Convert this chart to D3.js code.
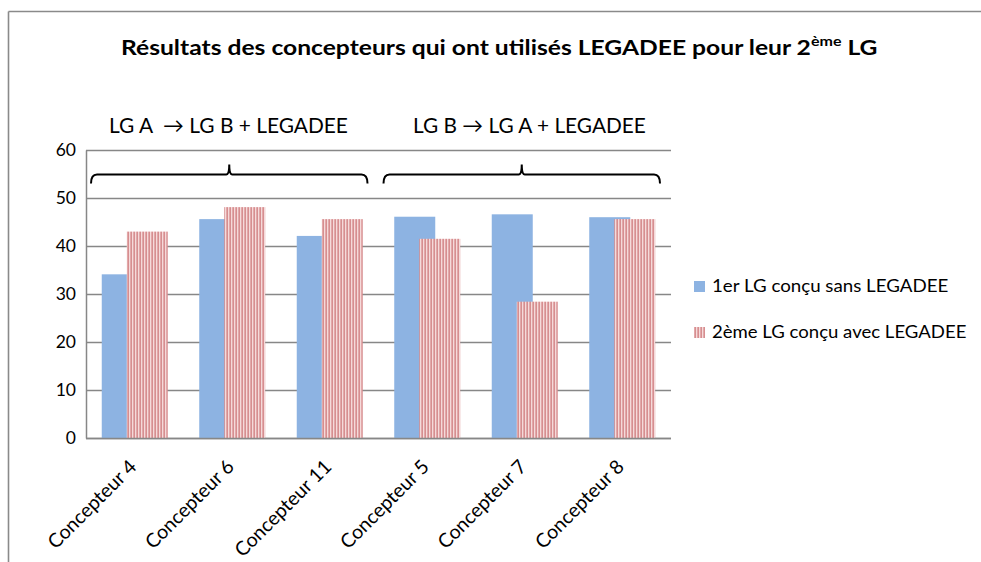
<!DOCTYPE html>
<html>
<head>
<meta charset="utf-8">
<script src="https://cdn.jsdelivr.net/npm/d3@7/dist/d3.min.js"></script>
<style>
  html, body { margin: 0; padding: 0; background: #ffffff; overflow: hidden; }
  svg { display: block; font-family: Lato, "Open Sans", "DejaVu Sans", sans-serif; }
</style>
</head>
<body>
<svg id="chart" width="981" height="562"></svg>
<script>
// Scores per designer: first LG designed without LEGADEE, second LG designed with it
const categories = ["Concepteur 4", "Concepteur 6", "Concepteur 11", "Concepteur 5", "Concepteur 7", "Concepteur 8"];
const sansLegadee = [34.1, 45.6, 42.1, 46.1, 46.6, 46.0];
const avecLegadee = [43.0, 48.1, 45.6, 41.5, 28.4, 45.6];
const seriesNames = ["1er LG conçu sans LEGADEE", "2ème LG conçu avec LEGADEE"];
const yTicks = [0, 10, 20, 30, 40, 50, 60];

// Designer groups marked by braces above the bars
const groupLabels = ["LG A  \u2192 LG B + LEGADEE", "LG B \u2192 LG A + LEGADEE"];
const groupFirst = [0, 3];
const groupLast = [2, 5];

const svg = d3.select("#chart");

const plot = { left: 86, right: 671, top: 150, bottom: 438 };
const gridColor = "#878787";
const blue = "#8db3e2";

// helper: stretch a horizontal text horizontally so it spans a given width from its left edge
function fitWidth(sel, x0, target) {
  const w = sel.node().getBBox().width;
  const sx = target / w;
  sel.attr("transform", `translate(${x0},0) scale(${sx},1) translate(${-x0},0)`);
}

// striped fill for the second series
const defs = svg.append("defs");
const pat = defs.append("pattern")
  .attr("id", "stripes").attr("patternUnits", "userSpaceOnUse")
  .attr("width", 3).attr("height", 4);
pat.append("rect").attr("x", 0).attr("y", 0).attr("width", 1).attr("height", 4).attr("fill", "#f5dada");
pat.append("rect").attr("x", 1).attr("y", 0).attr("width", 1).attr("height", 4).attr("fill", "#e2a8a9");
pat.append("rect").attr("x", 2).attr("y", 0).attr("width", 1).attr("height", 4).attr("fill", "#d68e90");

// chart frame: only the top and left edges are inside the view
const frame = svg.append("g").attr("stroke", "#8a8a8a").attr("stroke-width", 1.6);
frame.append("line").attr("x1", 8.5).attr("x2", 981).attr("y1", 11.5).attr("y2", 11.5);
frame.append("line").attr("x1", 8.5).attr("x2", 8.5).attr("y1", 11.5).attr("y2", 562);

// scales
const x = d3.scaleBand().domain(categories)
  .range([plot.left, plot.right])
  .paddingInner(0.323).paddingOuter(0.1615);
const y = d3.scaleLinear().domain([0, 60]).range([plot.bottom, plot.top]);
const barW = x.bandwidth() * 41 / 66;

// gridlines
svg.append("g").selectAll("line").data(yTicks).join("line")
  .attr("x1", plot.left).attr("x2", plot.right)
  .attr("y1", d => Math.round(y(d)) + 0.5).attr("y2", d => Math.round(y(d)) + 0.5)
  .attr("stroke", gridColor).attr("stroke-width", 1.3);

// y axis with labels
const yAxis = svg.append("g")
  .attr("transform", `translate(${plot.left},0)`)
  .call(d3.axisLeft(y).tickValues(yTicks).tickSize(0).tickPadding(10).tickFormat(d3.format("d")));
yAxis.select(".domain").attr("stroke", gridColor).attr("stroke-width", 1.5);
yAxis.selectAll("text")
  .attr("font-family", "Lato, sans-serif").attr("font-size", 17.5).attr("fill", "#000");

// bars: first series, then striped second series overlapping on top
const groups = svg.append("g").selectAll("g").data(categories).join("g");
groups.append("rect")
  .attr("x", d => x(d))
  .attr("y", (d, i) => y(sansLegadee[i]))
  .attr("width", barW)
  .attr("height", (d, i) => y(0) - y(sansLegadee[i]))
  .attr("fill", blue);
groups.append("rect")
  .attr("x", d => x(d) + x.bandwidth() - barW)
  .attr("y", (d, i) => y(avecLegadee[i]))
  .attr("width", barW)
  .attr("height", (d, i) => y(0) - y(avecLegadee[i]))
  .attr("fill", "url(#stripes)");

// x axis line and rotated category labels
svg.append("line")
  .attr("x1", plot.left).attr("x2", plot.right)
  .attr("y1", plot.bottom + 0.5).attr("y2", plot.bottom + 0.5)
  .attr("stroke", gridColor).attr("stroke-width", 1.5);
svg.append("g").selectAll("text").data(categories).join("text")
  .attr("transform", d => `translate(${x(d) + x.bandwidth() / 2 + 3},${plot.bottom + 30}) rotate(-45)`)
  .attr("text-anchor", "end")
  .attr("font-size", 19.5)
  .attr("fill", "#000")
  .text(d => d);

// title with superscript
const title = svg.append("text")
  .attr("x", 121).attr("y", 55)
  .attr("font-weight", "bold").attr("font-size", 21.5).attr("fill", "#000");
title.append("tspan").text("Résultats des concepteurs qui ont utilisés LEGADEE pour leur 2");
title.append("tspan").attr("font-size", 14).attr("dy", -9).text("ème");
title.append("tspan").attr("dy", 9).text(" LG");
fitWidth(title, 121, 757);

// group braces and their labels
const braceY = 174.5;
groupLabels.forEach((label, i) => {
  const x1 = x(categories[groupFirst[i]]) - x.step() * x.paddingOuter() + 5;
  const x2 = x(categories[groupLast[i]]) + x.bandwidth() + x.step() * x.paddingOuter() - 11;
  const cx = (x1 + x2) / 2;
  const r = 6;
  svg.append("path")
    .attr("d", `M${x1},${braceY + 9} Q${x1},${braceY} ${x1 + r},${braceY}
                L${cx - 3},${braceY} Q${cx},${braceY} ${cx},${braceY - 10}
                Q${cx},${braceY} ${cx + 3},${braceY}
                L${x2 - r},${braceY} Q${x2},${braceY} ${x2},${braceY + 9}`)
    .attr("fill", "none").attr("stroke", "#000").attr("stroke-width", 2);
});
const labelStarts = [109, 413];
const labelWidths = [239, 233];
groupLabels.forEach((label, i) => {
  const t = svg.append("text")
    .attr("x", labelStarts[i]).attr("y", 133)
    .attr("font-size", 20.5).attr("fill", "#000")
    .attr("xml:space", "preserve")
    .style("white-space", "pre")
    .text(label);
  fitWidth(t, labelStarts[i], labelWidths[i]);
});

// legend
const legendFills = [blue, "url(#stripes)"];
const legendY = [281, 327];
const legendW = [236.5, 254.5];
seriesNames.forEach((name, i) => {
  svg.append("rect")
    .attr("x", 694).attr("y", legendY[i]).attr("width", 11).attr("height", 11)
    .attr("fill", legendFills[i]);
  const t = svg.append("text")
    .attr("x", 712).attr("y", legendY[i] + 11.5)
    .attr("font-size", 17.5).attr("fill", "#000")
    .text(name);
  fitWidth(t, 712, legendW[i]);
});
</script>
</body>
</html>
